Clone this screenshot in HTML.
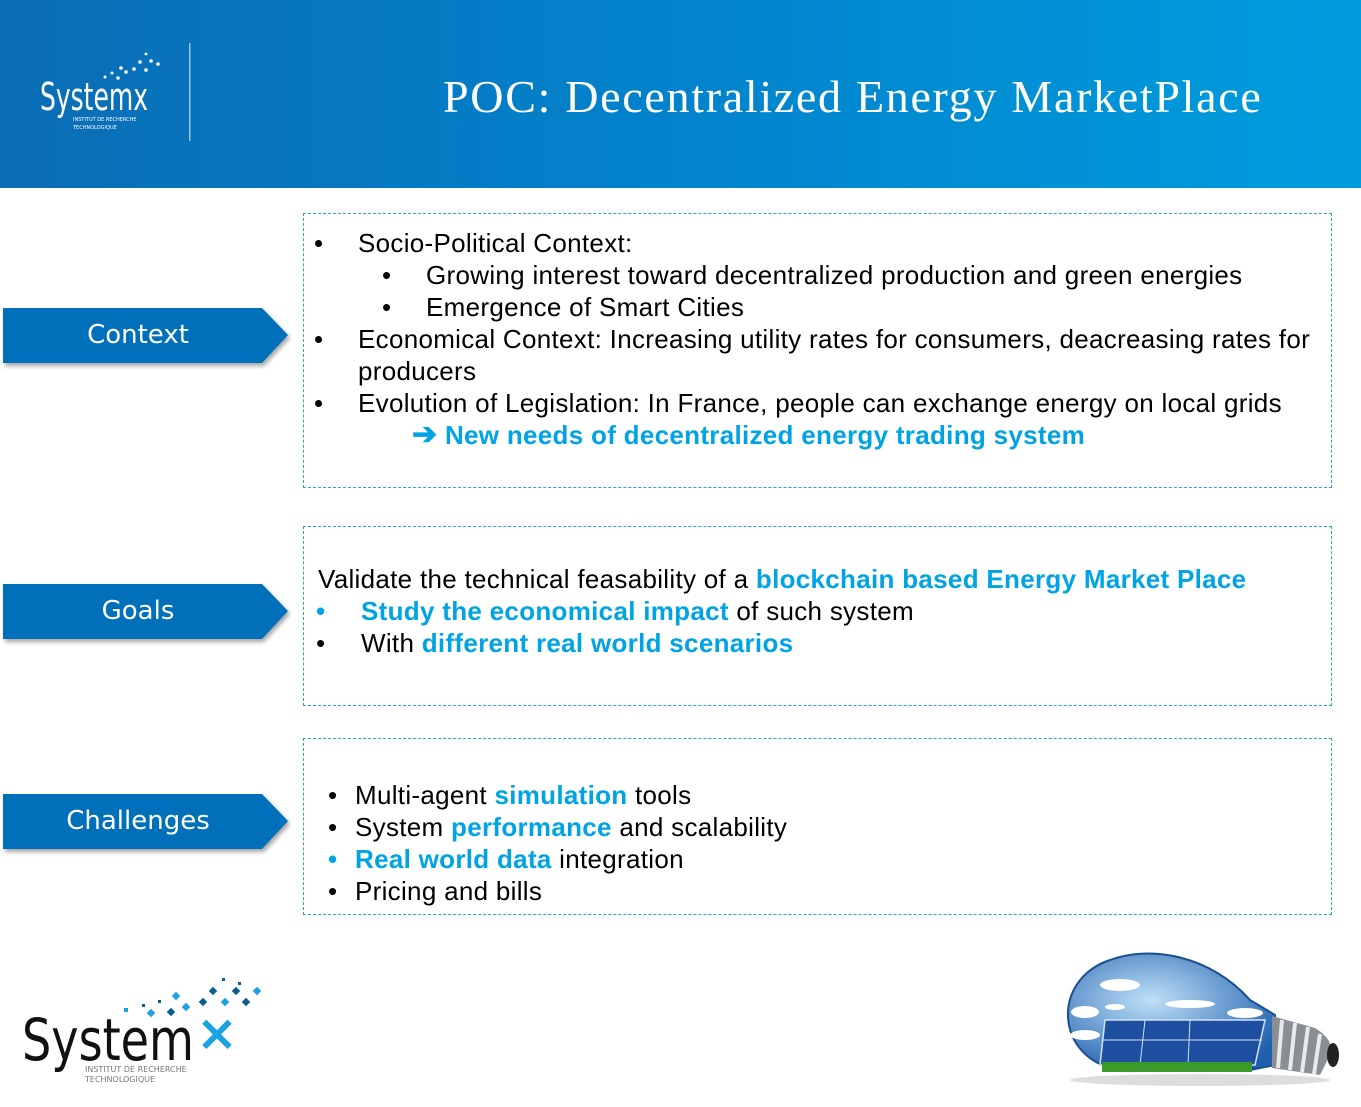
<!DOCTYPE html>
<html><head><meta charset="utf-8">
<style>
body{margin:0;width:1361px;height:1107px;position:relative;background:#fff;overflow:hidden;font-family:"Liberation Sans",Arial,sans-serif;}
.hdr{position:absolute;left:0;top:0;width:1361px;height:188px;background:linear-gradient(90deg,#0a6db5 0%,#0283cc 50%,#009ddd 100%);}
.title{position:absolute;left:443px;top:70px;font-family:"Liberation Serif",serif;font-size:46px;color:#fff;letter-spacing:1.7px;white-space:nowrap;}
.box{position:absolute;left:303px;width:1027px;border:1px dashed #2aa3dc;}
.tag{position:absolute;left:3px;width:286px;height:55px;}
.tag svg{position:absolute;left:0;top:0;filter:drop-shadow(2px 3px 2px rgba(0,0,0,.35));}
.tag span{position:absolute;left:0;width:270px;top:12px;text-align:center;color:#fff;font-family:"DejaVu Sans",sans-serif;font-size:26px;}
.t{position:absolute;font-size:26px;color:#000;white-space:nowrap;letter-spacing:0.3px;line-height:30px;}
.b{color:#00a3e4;font-weight:bold;}
</style></head><body>
<div class="hdr">
  <svg width="200" height="188" style="position:absolute;left:0;top:0">
    <text x="40" y="110" fill="#fff" font-family="DejaVu Sans" font-size="38" textLength="108" lengthAdjust="spacingAndGlyphs">Systemx</text>
    <text x="73" y="121" fill="#fff" font-family="DejaVu Sans" font-size="5">INSTITUT DE RECHERCHE</text>
    <text x="73" y="129" fill="#fff" font-family="DejaVu Sans" font-size="5">TECHNOLOGIQUE</text>
    <g fill="#fff"><circle cx="105" cy="77" r="1.5"/><circle cx="112" cy="73" r="1.5"/><circle cx="118" cy="78" r="1.8"/><circle cx="121" cy="68" r="1.8"/><circle cx="126" cy="72" r="1.8"/><circle cx="134" cy="69" r="1.8"/><circle cx="140" cy="62" r="1.8"/><circle cx="146" cy="70" r="1.8"/><circle cx="151" cy="61" r="1.8"/><circle cx="158" cy="64" r="1.8"/><circle cx="146" cy="54" r="1.4"/></g>
    <rect x="189" y="43" width="1.5" height="98" fill="rgba(255,255,255,.6)"/>
  </svg>
  <div class="title">POC: Decentralized Energy MarketPlace</div>
</div>

<div class="tag" style="top:308px"><svg width="290" height="60"><polygon points="0,0 259,0 285,27 259,55 0,55" fill="#0070ba"/></svg><span>Context</span></div>
<div class="tag" style="top:584px"><svg width="290" height="60"><polygon points="0,0 259,0 285,27 259,55 0,55" fill="#0070ba"/></svg><span>Goals</span></div>
<div class="tag" style="top:794px"><svg width="290" height="60"><polygon points="0,0 259,0 285,27 259,55 0,55" fill="#0070ba"/></svg><span>Challenges</span></div>

<div class="box" style="top:213px;height:273px"></div>
<div class="box" style="top:526px;height:178px"></div>
<div class="box" style="top:738px;height:175px"></div>

<div>
<div class="t" style="left:314px;top:228px">•</div><div class="t" style="left:358px;top:228px">Socio-Political Context:</div>
<div class="t" style="left:382px;top:260px">•</div><div class="t" style="left:426px;top:260px">Growing interest toward decentralized production and green energies</div>
<div class="t" style="left:382px;top:292px">•</div><div class="t" style="left:426px;top:292px">Emergence of Smart Cities</div>
<div class="t" style="left:314px;top:324px">•</div><div class="t" style="left:358px;top:324px">Economical Context: Increasing utility rates for consumers, deacreasing rates for</div>
<div class="t" style="left:358px;top:356px">producers</div>
<div class="t" style="left:314px;top:388px">•</div><div class="t" style="left:358px;top:388px">Evolution of Legislation: In France, people can exchange energy on local grids</div>
<div class="t b" style="left:412px;top:420px"><span style="font-size:30px">➔</span> New needs of decentralized energy trading system</div>
</div>

<div>
<div class="t" style="left:318px;top:564px">Validate the technical feasability of a <span class="b">blockchain based Energy Market Place</span></div>
<div class="t b" style="left:316px;top:596px">•</div><div class="t" style="left:361px;top:596px"><span class="b">Study the economical impact</span> of such system</div>
<div class="t" style="left:316px;top:628px">•</div><div class="t" style="left:361px;top:628px">With <span class="b">different real world scenarios</span></div>
</div>

<div>
<div class="t" style="left:328px;top:780px">•</div><div class="t" style="left:355px;top:780px">Multi-agent <span class="b">simulation</span> tools</div>
<div class="t" style="left:328px;top:812px">•</div><div class="t" style="left:355px;top:812px">System <span class="b">performance</span> and scalability</div>
<div class="t b" style="left:328px;top:844px">•</div><div class="t" style="left:355px;top:844px"><span class="b">Real world data</span> integration</div>
<div class="t" style="left:328px;top:876px">•</div><div class="t" style="left:355px;top:876px">Pricing and bills</div>
</div>

<svg width="280" height="130" style="position:absolute;left:0;top:960px">
  <text x="22" y="100" fill="#111" font-family="DejaVu Sans" font-size="58" textLength="172" lengthAdjust="spacingAndGlyphs">System</text>
  <text x="196" y="90" fill="#1aa3e0" font-family="DejaVu Sans" font-size="50" font-weight="bold">×</text>
  <text x="85" y="112" fill="#777" font-family="DejaVu Sans" font-size="8">INSTITUT DE RECHERCHE</text>
  <text x="85" y="122" fill="#777" font-family="DejaVu Sans" font-size="8">TECHNOLOGIQUE</text>
  <g fill="#1aa3e0"><rect x="124" y="48" width="4" height="4"/><rect x="148" y="50" width="6" height="6" transform="rotate(45 151 53)"/><rect x="173" y="33" width="6" height="6" transform="rotate(45 176 36)"/><rect x="183" y="44" width="6" height="6" transform="rotate(45 186 47)"/><rect x="222" y="39" width="6" height="6" transform="rotate(45 225 42)"/><rect x="254" y="28" width="6" height="6" transform="rotate(45 257 31)"/></g>
  <g fill="#0b5f8e"><rect x="142" y="44" width="3" height="3"/><rect x="158" y="40" width="3" height="3"/><rect x="168" y="49" width="6" height="6" transform="rotate(45 171 52)"/><rect x="200" y="39" width="6" height="6" transform="rotate(45 203 42)"/><rect x="210" y="28" width="6" height="6" transform="rotate(45 213 31)"/><rect x="233" y="28" width="6" height="6" transform="rotate(45 236 31)"/><rect x="243" y="39" width="6" height="6" transform="rotate(45 246 42)"/><rect x="222" y="18" width="3" height="3"/><rect x="238" y="22" width="3" height="3"/></g>
</svg>

<svg width="311" height="160" style="position:absolute;left:1050px;top:940px">
  <defs><radialGradient id="sky" cx="0.4" cy="0.4" r="0.7"><stop offset="0" stop-color="#bfe0f7"/><stop offset="1" stop-color="#1f5fae"/></radialGradient></defs>
  <ellipse cx="150" cy="140" rx="130" ry="6" fill="#ddd"/>
  <path d="M70,130 C5,120 0,40 60,20 C100,5 160,15 200,60 L225,75 L225,125 L200,130 Z" fill="url(#sky)" stroke="#1a4f90" stroke-width="2"/>
  <path d="M55,80 L215,80 L205,125 L50,125 Z" fill="#1f4fa0"/>
  <path d="M55,80 L215,80 L205,125 L50,125 Z" fill="none" stroke="#cfe2f5" stroke-width="1.5"/>
  <line x1="95" y1="80" x2="90" y2="125" stroke="#cfe2f5"/><line x1="140" y1="80" x2="138" y2="125" stroke="#cfe2f5"/><line x1="53" y1="100" x2="212" y2="100" stroke="#cfe2f5"/>
  <rect x="52" y="122" width="150" height="10" fill="#3a9a2a"/>
  <g fill="#fff"><ellipse cx="70" cy="45" rx="20" ry="6"/><ellipse cx="35" cy="72" rx="14" ry="6"/><ellipse cx="35" cy="95" rx="15" ry="5"/><ellipse cx="140" cy="64" rx="25" ry="4"/><ellipse cx="195" cy="73" rx="18" ry="5"/><ellipse cx="65" cy="67" rx="10" ry="3"/></g>
  <path d="M222,76 L265,88 Q285,100 280,115 L270,135 L222,128 Z" fill="#8a8f96"/>
  <g stroke="#e8eaec" stroke-width="4"><line x1="232" y1="80" x2="228" y2="128"/><line x1="245" y1="83" x2="240" y2="130"/><line x1="258" y1="87" x2="252" y2="132"/><line x1="270" y1="94" x2="264" y2="134"/></g>
  <ellipse cx="283" cy="115" rx="6" ry="12" fill="#222"/>
</svg>
</body></html>
